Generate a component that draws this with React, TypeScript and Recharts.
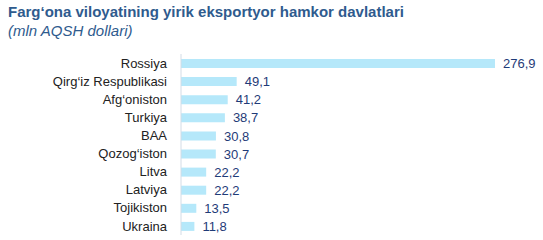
import React from 'react';
import { BarChart, Bar, XAxis, YAxis, LabelList } from 'recharts';

const countries = [
  'Rossiya',
  'Qirg‘iz Respublikasi',
  'Afg‘oniston',
  'Turkiya',
  'BAA',
  'Qozog‘iston',
  'Litva',
  'Latviya',
  'Tojikiston',
  'Ukraina',
];
const exports = [276.9, 49.1, 41.2, 38.7, 30.8, 30.7, 22.2, 22.2, 13.5, 11.8];

const data = countries.map((name, i) => ({ name, value: exports[i] }));

const fmt = (v: number) => v.toFixed(1).replace('.', ',');

const font = '"Liberation Sans", Arial, sans-serif';

export default function App() {
  return (
    <div
      style={{
        position: 'absolute',
        left: 0,
        top: 0,
        width: 543,
        height: 240,
        background: '#fff',
        fontFamily: font,
      }}
    >
      <div
        style={{
          position: 'absolute',
          left: 8,
          top: 3,
          fontSize: 15,
          fontWeight: 'bold',
          color: '#2f5b8e',
          whiteSpace: 'nowrap',
        }}
      >
        Farg‘ona viloyatining yirik eksportyor hamkor davlatlari
      </div>
      <div
        style={{
          position: 'absolute',
          left: 8,
          top: 22,
          fontSize: 15,
          fontStyle: 'italic',
          color: '#2f5b8e',
          whiteSpace: 'nowrap',
        }}
      >
        (mln AQSH dollari)
      </div>
      <BarChart
        width={543}
        height={240}
        data={data}
        layout="vertical"
        margin={{ top: 54, right: 48, bottom: 5, left: 0 }}
        style={{ position: 'absolute', left: 0, top: 0 }}
      >
        <XAxis type="number" hide domain={[0, 276.9]} />
        <YAxis
          type="category"
          dataKey="name"
          width={181}
          tickLine={false}
          axisLine={{ stroke: '#d3dce6' }}
          tick={{ fontSize: 13, fill: '#222', fontFamily: font }}
          tickMargin={8}
          interval={0}
        />
        <Bar dataKey="value" fill="#b5e8fa" barSize={9} isAnimationActive={false}>
          <LabelList
            dataKey="value"
            position="right"
            offset={8}
            formatter={(v: any) => fmt(Number(v))}
            style={{ fontSize: 13, fill: '#1f3b78', fontFamily: font }}
          />
        </Bar>
      </BarChart>
    </div>
  );
}
